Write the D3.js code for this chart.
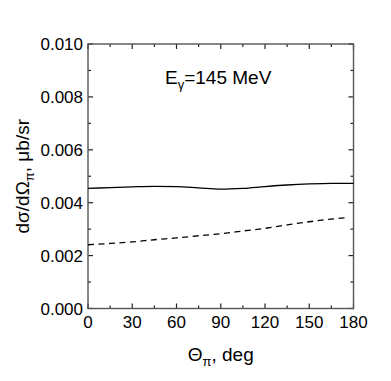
<!DOCTYPE html>
<html><head><meta charset="utf-8">
<script src="https://cdn.jsdelivr.net/npm/d3@7"></script>
<style>body{margin:0;background:#fff}svg{display:block}</style>
</head><body>
<script>
const anglesSolid = [0,15,30,45,60,75,90,105,120,135,150,165,180];
const solidValues = [0.00454,0.00457,0.00460,0.00462,0.00461,0.00456,0.00451,0.00454,0.00461,0.00467,0.00471,0.00473,0.00473];
const anglesDashed = [0,15,30,45,60,75,90,105,120,135,150,165,175];
const dashedValues = [0.00241,0.00246,0.00252,0.00260,0.00267,0.00275,0.00283,0.00293,0.00303,0.00316,0.00328,0.00338,0.00343];
const xTicks = [0,30,60,90,120,150,180];
const yTicks = [0,0.002,0.004,0.006,0.008,0.010];

const W=391,H=381;
const m={l:88,r:W-353.5,t:44,b:H-308.5};
const svg=d3.select("body").append("svg").attr("width",W).attr("height",H);
const x=d3.scaleLinear().domain([0,180]).range([m.l,W-m.r]);
const y=d3.scaleLinear().domain([0,0.010]).range([H-m.b,m.t]);
const font="Liberation Sans, Arial, sans-serif";

// ticks inward on four sides
const g=svg.append("g");
const xMinor=d3.range(0,181,15), yMinor=d3.range(0,11).map(d=>d/1000);
function tk(v,isMajor){return isMajor?5:3;}
xMinor.forEach(v=>{
  const L=tk(v, v%30===0);
  g.append("line").attr("x1",x(v)).attr("x2",x(v)).attr("y1",y(0)).attr("y2",y(0)-L).attr("stroke","#222").attr("stroke-width",1.2);
  g.append("line").attr("x1",x(v)).attr("x2",x(v)).attr("y1",y(0.010)).attr("y2",y(0.010)+L).attr("stroke","#222").attr("stroke-width",1.2);
});
yMinor.forEach((v,i)=>{
  const L=tk(v, i%2===0);
  g.append("line").attr("x1",x(0)).attr("x2",x(0)+L).attr("y1",y(v)).attr("y2",y(v)).attr("stroke","#222").attr("stroke-width",1.2);
  g.append("line").attr("x1",x(180)).attr("x2",x(180)-L).attr("y1",y(v)).attr("y2",y(v)).attr("stroke","#222").attr("stroke-width",1.2);
});
svg.append("rect").attr("x",x(0)).attr("y",y(0.010)).attr("width",x(180)-x(0)).attr("height",y(0)-y(0.010))
  .attr("fill","none").attr("stroke","#555").attr("stroke-width",1.4);

// tick labels
svg.append("g").selectAll("text").data(xTicks).join("text")
  .attr("x",d=>x(d)).attr("y",y(0)+19).attr("text-anchor","middle")
  .attr("font-family",font).attr("font-size",17).text(d=>d);
svg.append("g").selectAll("text").data(yTicks).join("text")
  .attr("x",x(0)-5).attr("y",d=>y(d)+6).attr("text-anchor","end")
  .attr("font-family",font).attr("font-size",17).text(d=>d3.format(".3f")(d));

// lines
const line=d3.line().curve(d3.curveMonotoneX);
svg.append("path").attr("d",line(anglesSolid.map((a,i)=>[x(a),y(solidValues[i])])))
  .attr("fill","none").attr("stroke","#000").attr("stroke-width",1.3);
svg.append("path").attr("d",line(anglesDashed.map((a,i)=>[x(a),y(dashedValues[i])])))
  .attr("fill","none").attr("stroke","#000").attr("stroke-width",1.3).attr("stroke-dasharray","6,4.5");

// annotation
const ann=svg.append("text").attr("x",165).attr("y",84).attr("font-family",font).attr("font-size",19);
ann.append("tspan").text("E");
ann.append("tspan").attr("dy",5).attr("font-size",13).text("γ");
ann.append("tspan").attr("dy",-5).text("=145 MeV");

// axis titles
const xl=svg.append("text").attr("x",x(90)).attr("y",361).attr("text-anchor","middle").attr("font-family",font).attr("font-size",19);
xl.append("tspan").text("Θ");
xl.append("tspan").attr("dy",5).attr("font-size",13).text("π");
xl.append("tspan").attr("dy",-5).text(", deg");

const yl=svg.append("text").attr("transform",`translate(29,${(y(0)+y(0.010))/2}) rotate(-90)`).attr("text-anchor","middle").attr("font-family",font).attr("font-size",19);
yl.append("tspan").text("dσ/dΩ");
yl.append("tspan").attr("dy",5).attr("font-size",13).text("π");
yl.append("tspan").attr("dy",-5).text(", μb/sr");
</script>
</body></html>
